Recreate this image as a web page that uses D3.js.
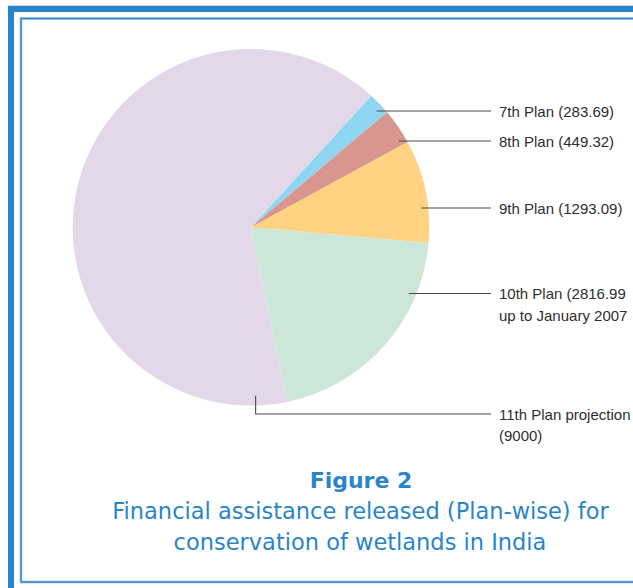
<!DOCTYPE html>
<html>
<head>
<meta charset="utf-8">
<script src="https://cdn.jsdelivr.net/npm/d3@7"></script>
<style>
  html, body { margin: 0; padding: 0; background: #ffffff; }
  svg { display: block; }
</style>
</head>
<body>
<svg id="chart" width="633" height="588"></svg>
<script>
// Plan-wise financial assistance (Rs. lakh)
const plans = ["7th Plan", "8th Plan", "9th Plan", "10th Plan", "11th Plan"];
const amounts = [283.69, 449.32, 1293.09, 2816.99, 9000];
const labelLines = [
  ["7th Plan (283.69)"],
  ["8th Plan (449.32)"],
  ["9th Plan (1293.09)"],
  ["10th Plan (2816.99", "up to January 2007"],
  ["11th Plan projection", "(9000)"]
];
const sliceColors = ["#8fd6f3", "#d9968f", "#ffd382", "#cce6d7", "#e2d8ea"];

const W = 633, H = 588;
const blue = "#2a84c8";
const svg = d3.select("#chart");

// ---- frame ----
const frame = svg.append("g");
frame.append("line").attr("x1", 8).attr("x2", W).attr("y1", 5.5).attr("y2", 5.5)
  .attr("stroke", "#cfdbe7").attr("stroke-width", 1);
frame.append("path")
  .attr("d", `M11,${H} V9 H${W}`)
  .attr("fill", "none").attr("stroke", blue).attr("stroke-width", 6);
frame.append("path")
  .attr("d", `M${W},18.5 H21 V582 H${W}`)
  .attr("fill", "none").attr("stroke", "#b9d5ec").attr("stroke-width", 3);
frame.append("path")
  .attr("d", `M${W},18.5 H21 V582 H${W}`)
  .attr("fill", "none").attr("stroke", blue).attr("stroke-width", 1.4);

// ---- pie ----
const cx = 251, cy = 227.3, R = 178.3;
const startDeg = 42.4;
const pie = d3.pie().sort(null).value(d => d)
  .startAngle(startDeg * Math.PI / 180)
  .endAngle(startDeg * Math.PI / 180 + 2 * Math.PI);
const arcs = pie(amounts);
const arc = d3.arc().innerRadius(0).outerRadius(R);

const g = svg.append("g").attr("transform", `translate(${cx},${cy})`);
g.selectAll("path.slice")
  .data(arcs)
  .join("path")
  .attr("class", "slice")
  .attr("d", arc)
  .attr("fill", (d, i) => sliceColors[i]);

// ---- leader lines and labels ----
const labelY = [111, 141, 208, 293.5, 414];
const lineEndX = 491, textX = 499, lineGap = 21.5;
const leaderR = R * 0.96;
const lg = svg.append("g");

arcs.forEach((a, i) => {
  const y = labelY[i];
  let path;
  if (i < 4) {
    const dy = y - cy;
    const x0 = cx + Math.sqrt(Math.max(0, leaderR * leaderR - dy * dy));
    path = `M${x0},${y} H${lineEndX}`;
  } else {
    // bottom slice: short drop from inside the slice, just right of straight down
    const ang = Math.PI - 0.027;
    const x0 = cx + leaderR * Math.sin(ang);
    const y0 = cy - leaderR * 0.985 * Math.cos(ang);
    path = `M${x0},${y0} V${y} H${lineEndX}`;
  }
  lg.append("path").attr("d", path)
    .attr("fill", "none").attr("stroke", "#4a4a4a").attr("stroke-width", 1.1);

  const t = lg.append("text")
    .attr("x", textX).attr("y", y + 5.5)
    .attr("font-family", "'Liberation Sans', Arial, sans-serif")
    .attr("font-size", 15)
    .attr("fill", "#2e2e2e");
  labelLines[i].forEach((s, k) => {
    t.append("tspan").attr("x", textX).attr("dy", k === 0 ? 0 : lineGap).text(s);
  });
});

// ---- caption ----
const cap = svg.append("g").attr("fill", blue)
  .attr("font-family", "'DejaVu Sans', Verdana, sans-serif")
  .attr("text-anchor", "middle");
cap.append("text").attr("x", 361).attr("y", 488)
  .attr("font-weight", "bold").attr("font-size", 22).text("Figure 2");
cap.append("text").attr("x", 360.5).attr("y", 519)
  .attr("font-size", 22.5).text("Financial assistance released (Plan-wise) for");
cap.append("text").attr("x", 360).attr("y", 550)
  .attr("font-size", 22.5).text("conservation of wetlands in India");
</script>
</body>
</html>
